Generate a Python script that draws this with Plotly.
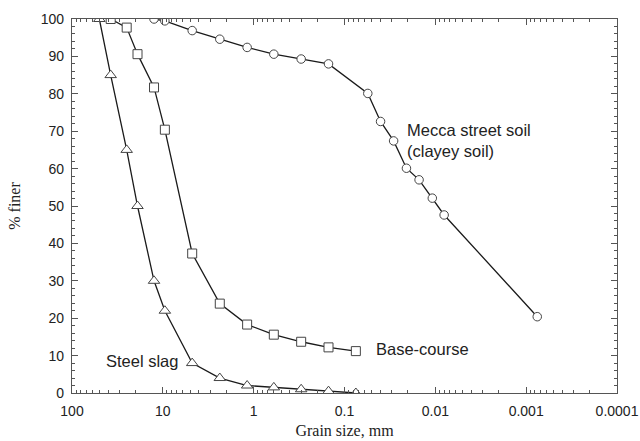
import plotly.graph_objects as go

# Data
slag_size = [50, 37.5, 25, 19, 12.5, 9.5, 4.75, 2.36, 1.18, 0.6, 0.3, 0.15, 0.075]
slag_finer = [100, 85, 65, 50, 30, 22, 8, 4, 2, 1.5, 1, 0.5, 0]

base_size = [37.5, 25, 19, 12.5, 9.5, 4.75, 2.36, 1.18, 0.6, 0.3, 0.15, 0.075]
base_finer = [100, 97.7, 90.6, 81.7, 70.4, 37.3, 23.9, 18.3, 15.6, 13.7, 12.2, 11.2]

mecca_size = [12.5, 9.5, 4.75, 2.36, 1.18, 0.6, 0.3, 0.15, 0.0554, 0.0401,
              0.0288, 0.0208, 0.0151, 0.0108, 0.0080, 0.000755]
mecca_finer = [100, 99.5, 96.9, 94.6, 92.4, 90.6, 89.3, 88.0, 80.1, 72.6,
               67.4, 60.1, 57.0, 52.1, 47.6, 20.4]

x_tickvals = [100, 10, 1, 0.1, 0.01, 0.001, 0.0001]
x_ticktext = ["100", "10", "1", "0.1", "0.01", "0.001", "0.0001"]
y_tickvals = [0, 10, 20, 30, 40, 50, 60, 70, 80, 90, 100]

line_col = "#1a1a1a"
mk_line = dict(color="#444444", width=1)

fig = go.Figure()
fig.add_trace(go.Scatter(x=mecca_size, y=mecca_finer, mode="lines+markers",
                         line=dict(color=line_col, width=1.3),
                         marker=dict(symbol="circle", size=8.5, color="white", line=mk_line),
                         showlegend=False))
fig.add_trace(go.Scatter(x=base_size, y=base_finer, mode="lines+markers",
                         line=dict(color=line_col, width=1.3),
                         marker=dict(symbol="square", size=9, color="white", line=mk_line),
                         showlegend=False))
fig.add_trace(go.Scatter(x=slag_size, y=slag_finer, mode="lines+markers",
                         line=dict(color=line_col, width=1.3),
                         marker=dict(symbol="triangle-up", size=10, color="white", line=mk_line),
                         showlegend=False))

sans = "Liberation Sans, Arial, sans-serif"
serif = "Liberation Serif, Times New Roman, serif"

fig.update_layout(
    width=640, height=441,
    margin=dict(l=72, r=23, t=19, b=48),
    paper_bgcolor="white", plot_bgcolor="white",
    font=dict(family=sans, size=14, color="#222222"),
    xaxis=dict(type="log", range=[2, -4], tickvals=x_tickvals, ticktext=x_ticktext,
               ticks="inside", ticklen=6, tickcolor="#555555",
               showline=True, linecolor="#555555", linewidth=1.2, mirror="ticks",
               showgrid=False, zeroline=False, ticklabelstandoff=5, automargin=False,
               minor=dict(ticks="inside", ticklen=3, dtick="D1", tickcolor="#555555", showgrid=False),
               title=dict(text="Grain size, mm", font=dict(family=serif, size=16, color="#222222"), standoff=6),
               tickfont=dict(family=sans, size=14)),
    yaxis=dict(range=[0, 100], tickvals=y_tickvals,
               ticks="inside", ticklen=6, tickcolor="#555555",
               showline=True, linecolor="#555555", linewidth=1.2, mirror="ticks",
               showgrid=False, zeroline=False, ticklabelstandoff=4, automargin=False,
               minor=dict(ticks="inside", ticklen=3, dtick=2, tickcolor="#555555", showgrid=False),
               title=dict(text="% finer", font=dict(family=serif, size=16, color="#222222"), standoff=16),
               tickfont=dict(family=sans, size=14)),
)

fig.add_annotation(x=-1.664, y=67.4, xref="x", yref="y", text="Mecca street soil<br>(clayey soil)",
                   showarrow=False, xanchor="left", yanchor="middle", align="left",
                   font=dict(family=sans, size=16.5, color="#222222"))
fig.add_annotation(x=-1.323, y=11.7, xref="x", yref="y", text="Base-course",
                   showarrow=False, xanchor="left", yanchor="middle",
                   font=dict(family=sans, size=16.5, color="#222222"))
fig.add_annotation(x=1.651, y=8.6, xref="x", yref="y", text="Steel slag",
                   showarrow=False, xanchor="left", yanchor="middle",
                   font=dict(family=sans, size=16.5, color="#222222"))

fig.write_html("out.html")
